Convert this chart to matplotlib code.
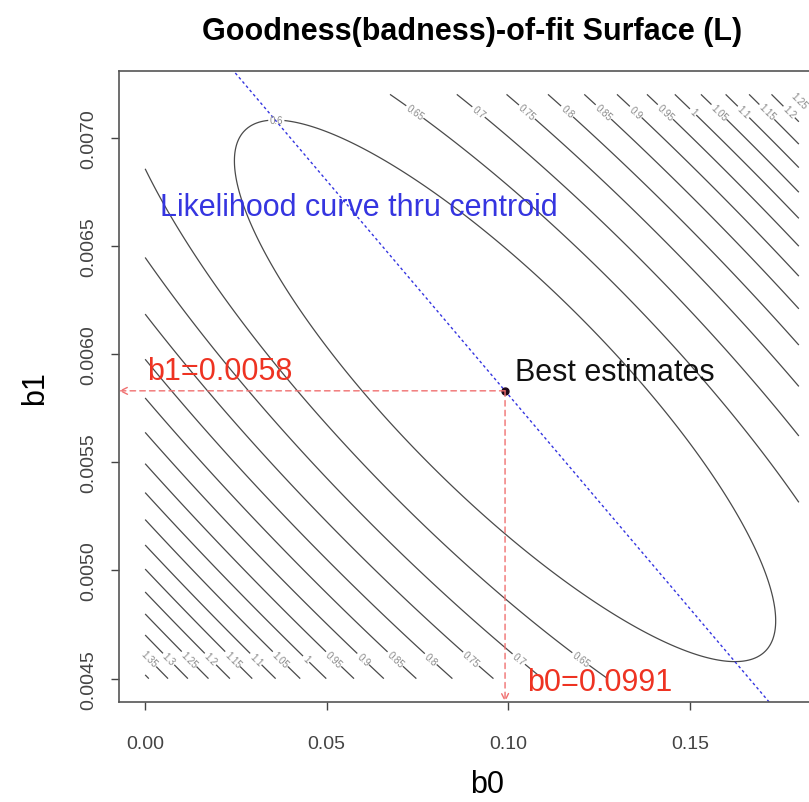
import numpy as np
import matplotlib.pyplot as plt

plt.rcParams['font.family'] = ['Liberation Sans', 'DejaVu Sans']

# best estimates and the fitted quadratic badness-of-fit surface
b0_hat = 0.0991
b1_hat = 0.00583
f_min = 0.555
c00 = 29.05      # (b0 - b0_hat)^2
c01 = 2938.0     # (b0 - b0_hat) * (b1 - b1_hat)
c11 = 103020.0   # (b1 - b1_hat)^2

b0_range = [0.0, 0.18]
b1_range = [0.0045, 0.0072]
levels = [0.6, 0.65, 0.7, 0.75, 0.8, 0.85, 0.9, 0.95, 1.0,
          1.05, 1.1, 1.15, 1.2, 1.25, 1.3, 1.35, 1.4]
x_ticks = [0.00, 0.05, 0.10, 0.15]
x_ticklabels = ['0.00', '0.05', '0.10', '0.15']
y_ticks = [0.0045, 0.0050, 0.0055, 0.0060, 0.0065, 0.0070]
y_ticklabels = ['0.0045', '0.0050', '0.0055', '0.0060', '0.0065', '0.0070']

red_line = '#f07070'
red_text = '#ee3322'
blue = '#3535e0'

fig = plt.figure(figsize=(8.09, 8.03), dpi=100)
# plot region runs a bit past the right edge of the picture, as in the original
ax = fig.add_axes([119 / 809, 1 - 703 / 803, (825 - 119) / 809, (703 - 72) / 803])

g0 = np.linspace(b0_range[0], b0_range[1], 300)
g1 = np.linspace(b1_range[0], b1_range[1], 300)
B0, B1 = np.meshgrid(g0, g1)
U = B0 - b0_hat
V = B1 - b1_hat
F = f_min + c00 * U**2 + c01 * U * V + c11 * V**2

cs = ax.contour(B0, B1, F, levels=levels, colors='#4a4a4a', linewidths=0.9)

# labels near the edge ends of each line (top end on the upper-right side,
# bottom end on the lower-left side), like R's contour()
spots = []
for segs in cs.allsegs:
    for seg in segs:
        if len(seg) < 5:
            continue
        u = seg[:, 0] - b0_hat
        v = seg[:, 1] - b1_hat
        closed = np.allclose(seg[0], seg[-1])
        side = np.mean(2 * c00 * u + c01 * v)
        if closed:
            i = np.argmax(seg[:, 1])
        elif side > 0:
            i = np.argmin(np.abs(seg[:, 1] - 0.00712))
        else:
            i = np.argmin(np.abs(seg[:, 1] - 0.00459))
        spots.append((seg[i, 0], seg[i, 1]))
ax.clabel(cs, manual=spots, inline=True, fontsize=7, colors='#8a8a8a',
          fmt=lambda v: f'{v:g}', inline_spacing=2)

xlim = (-0.0072, 0.1872)
ylim = (b1_range[0] - 0.04 * (b1_range[1] - b1_range[0]),
        b1_range[1] + 0.04 * (b1_range[1] - b1_range[0]))
ax.set_xlim(xlim)
ax.set_ylim(ylim)

# likelihood curve through the centroid: best b0 for each b1
prof_b1 = np.array(ylim)
prof_b0 = b0_hat - c01 / (2 * c00) * (prof_b1 - b1_hat)
ax.plot(prof_b0, prof_b1, color=blue, lw=1.0, linestyle=(0, (2, 2)))

# dashed arrows to the axes
arrow = dict(arrowstyle='->,head_length=0.5,head_width=0.25', color=red_line,
             lw=1.0, linestyle=(0, (4, 3)), shrinkA=0, shrinkB=0)
ax.annotate('', xy=(xlim[0], b1_hat), xytext=(b0_hat, b1_hat), arrowprops=arrow)
ax.annotate('', xy=(b0_hat, ylim[0]), xytext=(b0_hat, b1_hat), arrowprops=arrow)

ax.plot([b0_hat], [b1_hat], 'o', color='#200818', ms=5)

ax.text(0.0041, 0.006644, 'Likelihood curve thru centroid', color=blue,
        fontsize=22, va='baseline', ha='left')
ax.text(0.1019, 0.005878, 'Best estimates', color='#111111',
        fontsize=22, va='baseline', ha='left')
ax.text(0.0005, 0.005886, f'b1={b1_hat:.4f}', color=red_text,
        fontsize=22, va='baseline', ha='left')
ax.text(0.1051, 0.004446, f'b0={b0_hat:.4f}', color=red_text,
        fontsize=22, va='baseline', ha='left')

ax.set_xticks(x_ticks)
ax.set_xticklabels(x_ticklabels)
ax.set_yticks(y_ticks)
ax.set_yticklabels(y_ticklabels, rotation=90, va='center')
ax.tick_params(axis='both', labelsize=14, colors='#444444', length=6, width=1)
ax.tick_params(axis='x', pad=18)
ax.tick_params(axis='y', pad=10)
for sp in ax.spines.values():
    sp.set_color('#555555')
    sp.set_linewidth(1.2)

fig.text(472 / 809, 1 - 40 / 803, 'Goodness(badness)-of-fit Surface (L)',
         fontsize=22, fontweight='bold', ha='center', va='baseline')
fig.text(487 / 809, 1 - 785 / 803, 'b0', fontsize=22, ha='center', va='center')
fig.text(35 / 809, 1 - 388 / 803, 'b1', fontsize=22, ha='center', va='center',
         rotation=90)

fig.savefig('out.png', dpi=100)
